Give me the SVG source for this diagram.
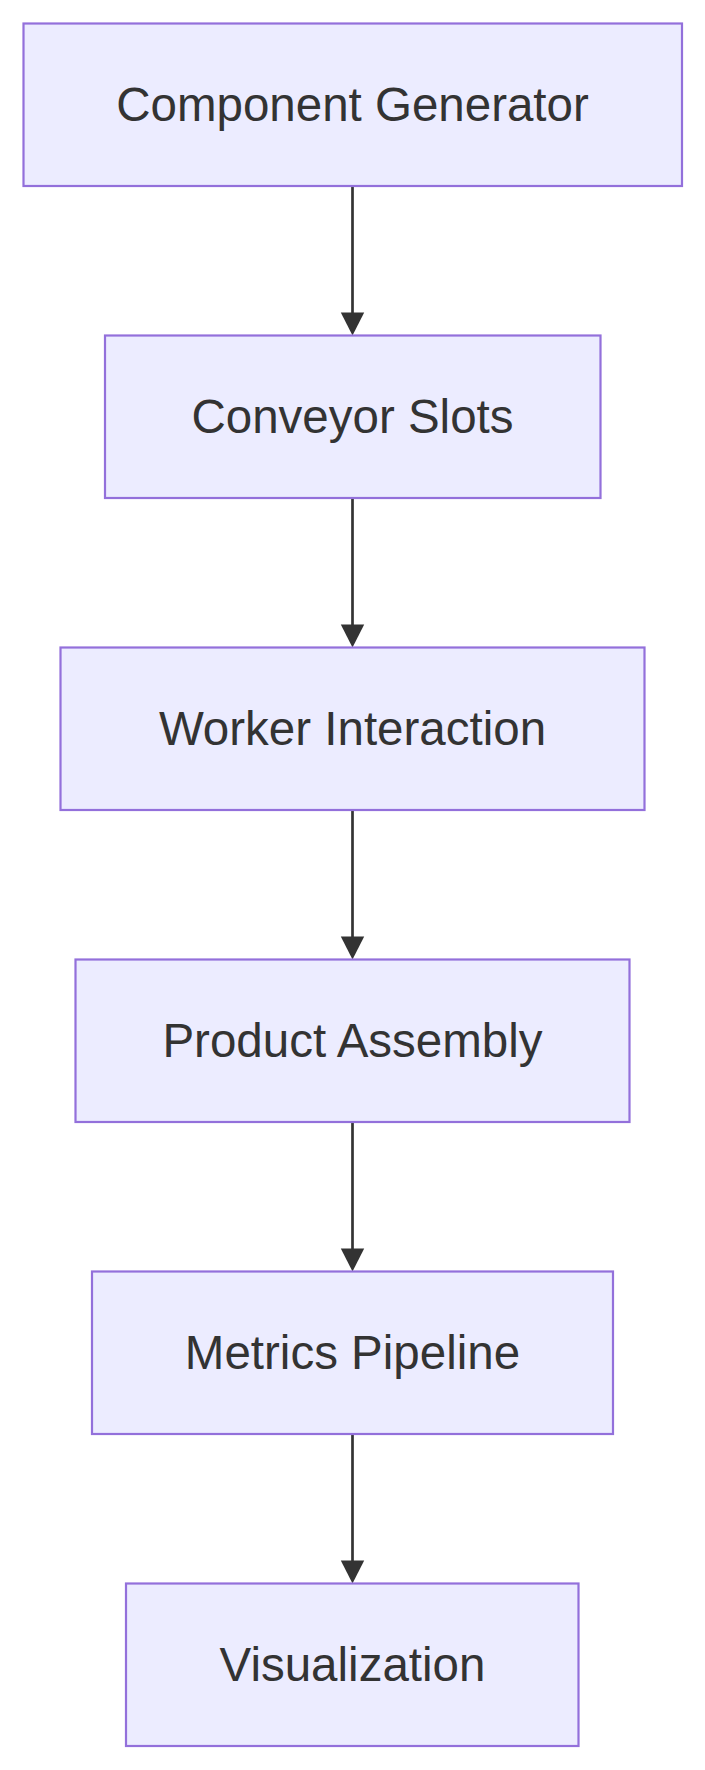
<svg xmlns="http://www.w3.org/2000/svg" width="705" height="1770" viewBox="0 0 705 1770">
<style>
.node rect{fill:#ECECFF;stroke:#9370DB;stroke-width:2.2}
.node text{font-family:"Liberation Sans",Arial,sans-serif;font-size:47.5px;fill:#333333;text-anchor:middle}
.edge{stroke:#333333;stroke-width:2.7;fill:none}
.head{fill:#333333}
</style>
<rect width="705" height="1770" fill="#ffffff"/>
<g id="connectors">
<line class="edge" x1="352.5" y1="186" x2="352.5" y2="314"/>
<polygon class="head" points="340.8,312.5 364.2,312.5 352.5,335.5"/>
<line class="edge" x1="352.5" y1="498" x2="352.5" y2="626"/>
<polygon class="head" points="340.8,624.5 364.2,624.5 352.5,647.5"/>
<line class="edge" x1="352.5" y1="810" x2="352.5" y2="938"/>
<polygon class="head" points="340.8,936.5 364.2,936.5 352.5,959.5"/>
<line class="edge" x1="352.5" y1="1122" x2="352.5" y2="1250"/>
<polygon class="head" points="340.8,1248.5 364.2,1248.5 352.5,1271.5"/>
<line class="edge" x1="352.5" y1="1434" x2="352.5" y2="1562"/>
<polygon class="head" points="340.8,1560.5 364.2,1560.5 352.5,1583.5"/>
</g>
<g id="node-component-generator" class="node">
<rect x="23.5" y="23.5" width="658.5" height="162.5"/>
<text x="352.5" y="120.5">Component Generator</text>
</g>
<g id="node-conveyor-slots" class="node">
<rect x="105" y="335.5" width="495.5" height="162.5"/>
<text x="352.5" y="432.5">Conveyor Slots</text>
</g>
<g id="node-worker-interaction" class="node">
<rect x="60.5" y="647.5" width="584" height="162.5"/>
<text x="352.5" y="744.5">Worker Interaction</text>
</g>
<g id="node-product-assembly" class="node">
<rect x="75.5" y="959.5" width="554" height="162.5"/>
<text x="352.5" y="1056.5">Product Assembly</text>
</g>
<g id="node-metrics-pipeline" class="node">
<rect x="92" y="1271.5" width="521" height="162.5"/>
<text x="352.5" y="1368.5">Metrics Pipeline</text>
</g>
<g id="node-visualization" class="node">
<rect x="126" y="1583.5" width="452.5" height="162.5"/>
<text x="352.5" y="1680.5">Visualization</text>
</g>
</svg>
